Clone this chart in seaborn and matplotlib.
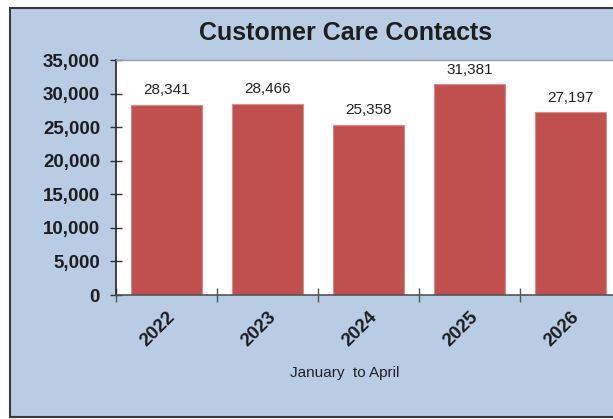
import matplotlib
matplotlib.use("Agg")
import matplotlib.pyplot as plt
import matplotlib.ticker as mticker
from matplotlib.patches import Rectangle
import seaborn as sns
import pandas as pd

years = ["2022", "2023", "2024", "2025", "2026"]
contacts = [28341, 28466, 25358, 31381, 27197]
title = "Customer Care Contacts"
xlabel = "January  to April"

df = pd.DataFrame({"year": years, "contacts": contacts})

sns.set_theme(style="white")
plt.rcParams["font.family"] = ["Liberation Sans", "DejaVu Sans"]

W, H = 613, 419
fig = plt.figure(figsize=(W / 100, H / 100), dpi=100)
fig.patch.set_facecolor("white")

# chart background panel with border
bg = Rectangle((10 / W, 2.5 / H), 1.2, (416.5 - 8) / H, transform=fig.transFigure,
               facecolor="#b8cce4", edgecolor="#3a3a3a", linewidth=1.5, zorder=-5)
fig.patches.append(bg)

left, right, top, bottom = 116, 621, 60, 295
ax = fig.add_axes([left / W, (H - bottom) / H, (right - left) / W, (bottom - top) / H])
ax.set_zorder(5)
ax.set_facecolor("white")

sns.barplot(data=df, x="year", y="contacts", color="#c0504d", saturation=1,
            width=0.71, edgecolor="#d98c8a", linewidth=0.8, ax=ax)

ax.set_xlim(-0.5, 4.5)
ax.set_ylim(0, 35000)
ax.yaxis.set_major_locator(mticker.MultipleLocator(5000))
ax.yaxis.set_major_formatter(mticker.FuncFormatter(lambda v, p: f"{int(v):,}"))

ax.set_xticks(range(len(years)))
ax.set_xticklabels(years, rotation=45, ha="right", rotation_mode="anchor",
                   fontsize=13.5, fontweight="bold", color="#1e1e1e")
ax.set_xticks([i - 0.5 for i in range(len(years) + 1)], minor=True)
ax.tick_params(axis="x", which="major", bottom=True, length=0, pad=9.5)
ax.tick_params(axis="x", which="minor", bottom=True, direction="inout", length=10,
               width=1, color="#555555")
ax.tick_params(axis="y", left=True, direction="inout", length=8, width=1, color="#333333",
               labelsize=13.5, pad=7.5)
for lab in ax.get_yticklabels():
    lab.set_fontweight("bold")
    lab.set_color("#1e1e1e")

ax.set_xlabel("")
ax.set_ylabel("")

ax.spines["left"].set_color("#222222")
ax.spines["left"].set_linewidth(1.2)
ax.spines["bottom"].set_color("#555555")
ax.spines["bottom"].set_linewidth(1.2)
ax.spines["top"].set_color("#9a9a9a")
ax.spines["top"].set_linewidth(1)
ax.spines["right"].set_visible(False)

for container in ax.containers:
    ax.bar_label(container, labels=[f"{v:,}" for v in contacts], padding=5.5,
                 fontsize=11, color="#222222")

fig.text(346 / W, (H - 33) / H, title, ha="center", va="center",
         fontsize=18, fontweight="bold", color="#1e1e1e")
fig.text(345 / W, (H - 373) / H, xlabel, ha="center", va="center",
         fontsize=11, color="#222222")

fig.savefig("out.png", dpi=100)
